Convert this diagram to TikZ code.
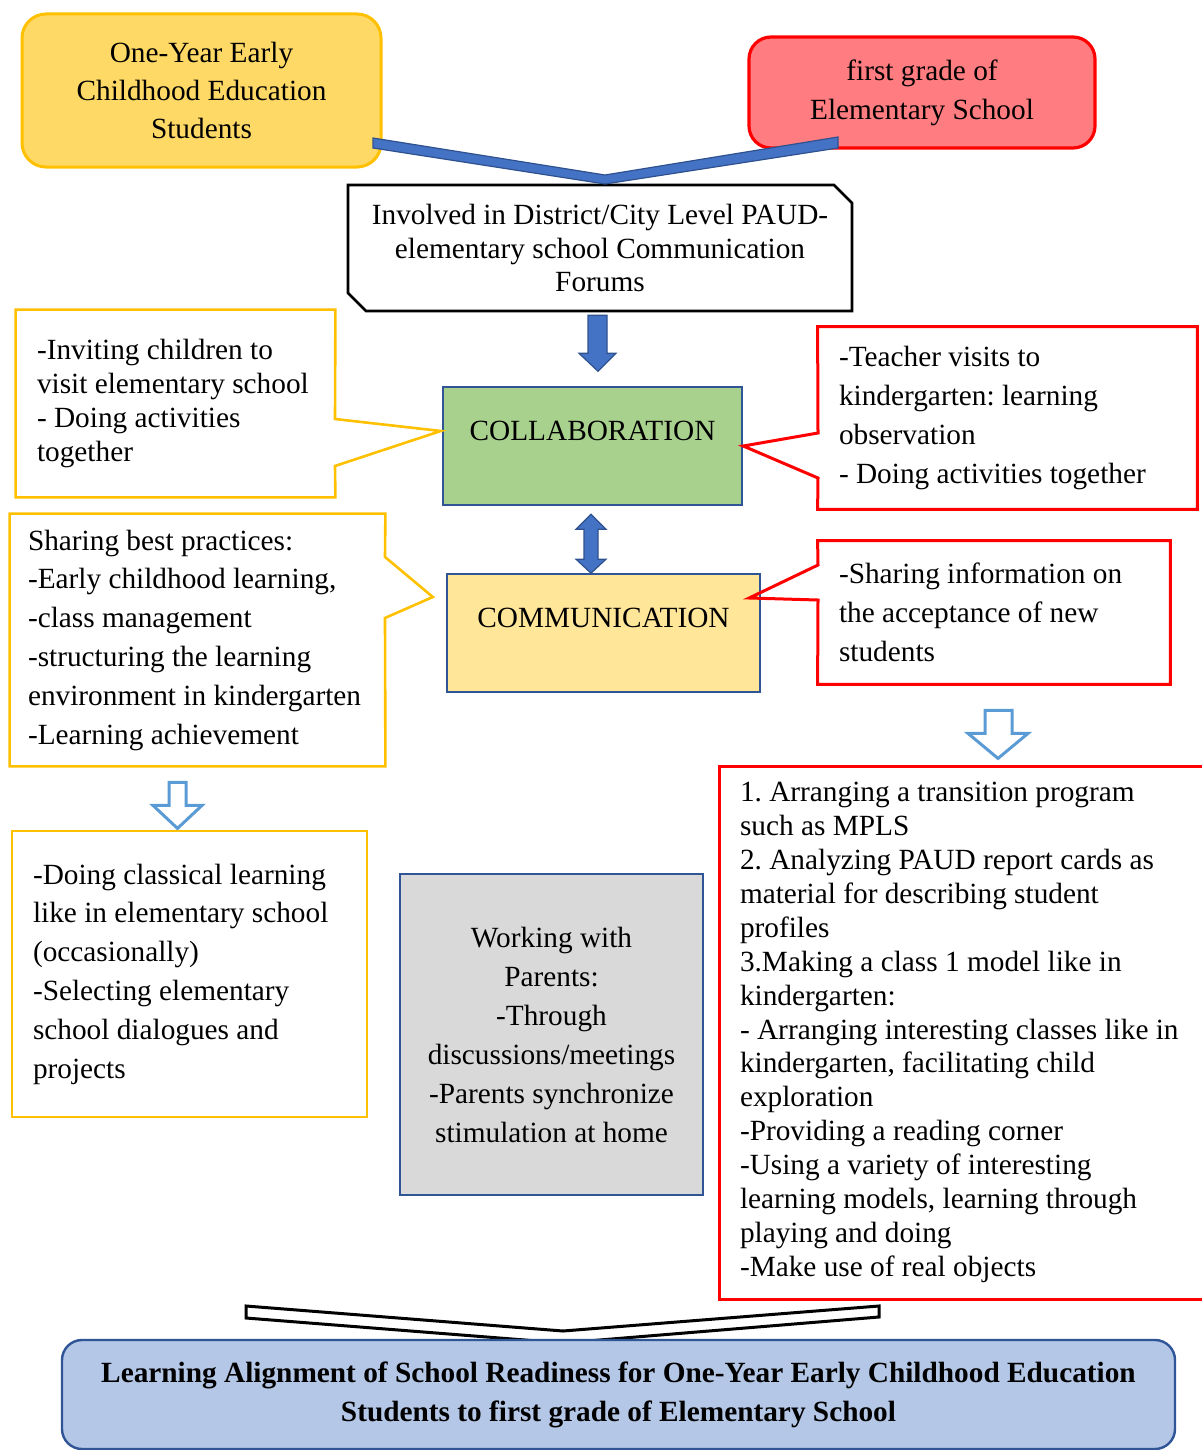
\documentclass[tikz,border=0pt]{standalone}
\usepackage{fontspec}
\setmainfont{Liberation Serif}
\usepackage{xcolor}
\usetikzlibrary{arrows.meta, positioning, shapes.geometric, shapes.misc, calc}
\frenchspacing

\definecolor{ygold}{HTML}{FFC000}
\definecolor{yfill}{HTML}{FFD966}
\definecolor{rline}{HTML}{FF0000}
\definecolor{rfill}{HTML}{FF7C80}
\definecolor{barblue}{HTML}{4472C4}
\definecolor{bardark}{HTML}{2F528F}
\definecolor{boxblue}{HTML}{2F5597}
\definecolor{collabfill}{HTML}{A9D18E}
\definecolor{commfill}{HTML}{FFE699}
\definecolor{hollowblue}{HTML}{5B9BD5}
\definecolor{parentfill}{HTML}{D9D9D9}
\definecolor{titlefill}{HTML}{B4C7E7}

\begin{document}
\begin{tikzpicture}[
    x=0.5pt, y=-0.5pt,
    box/.style={rectangle, inner sep=0pt, align=center, font=\fontsize{14.65pt}{19.5pt}\selectfont},
    tight/.style={font=\fontsize{14.65pt}{16.95pt}\selectfont},
    topY/.style={box, draw=ygold, fill=yfill, line width=1.5pt, rounded corners=12pt},
    topR/.style={box, draw=rline, fill=rfill, line width=1.6pt, rounded corners=11pt},
    forumbox/.style={box, tight, draw=black, line width=1.3pt, chamfered rectangle, chamfered rectangle corners={north east, south west}, chamfered rectangle xsep=4.5pt, chamfered rectangle ysep=4.5pt},
    mainbox/.style={box, draw=boxblue, line width=1.2pt},
    note/.style={box, align=flush left},
    callY/.style={draw=ygold, line width=1.3pt, line join=miter},
    callR/.style={draw=rline, line width=1.5pt, line join=miter},
    solidarrow/.style={fill=barblue, draw=bardark, line width=0.6pt},
    hollowarrow/.style={fill=white, draw=hollowblue, line width=1.5pt},
    outlinebar/.style={fill=white, draw=black, line width=1.5pt}
]
    \useasboundingbox (0,0) rectangle (1201,1450);

    \node[topY, minimum width=179.5pt, minimum height=76.5pt, font=\fontsize{14.65pt}{19pt}\selectfont] (paud) at (201.5,90.5) {One-Year Early\\Childhood Education\\Students};
    \node[topR, minimum width=173pt, minimum height=55.5pt] (grade1) at (922,92.5) {first grade of\\Elementary School};
    \node[forumbox, minimum width=252pt, minimum height=63pt] (forum) at (600,248) {Involved in District/City Level PAUD-\\elementary school Communication\\Forums};
    \node[mainbox, fill=collabfill, minimum width=149.5pt, minimum height=59pt] (collab) at (592.5,446) {COLLABORATION\\[-4.5pt]\mbox{}};
    \node[mainbox, fill=commfill, minimum width=156.5pt, minimum height=59pt] (comm) at (603.5,633) {COMMUNICATION\\[-4.5pt]\mbox{}};

    \node[note, tight, text width=138.5pt, minimum width=159.5pt, minimum height=93.5pt] (invite) at (175.5,403.5) {-Inviting children to\\visit elementary school\\- Doing activities\\together};
    \node[note, text width=168.5pt, minimum width=189.5pt, minimum height=91pt] (teach) at (1007.5,418) {-Teacher visits to\\kindergarten: learning\\observation\\- Doing activities together};
    \node[note, font=\fontsize{14.65pt}{19.4pt}\selectfont, text width=169.5pt, minimum width=187.5pt, minimum height=126pt] (share) at (197.5,640) {Sharing best practices:\\-Early childhood learning,\\-class management\\-structuring the learning\\environment in kindergarten\\-Learning achievement};
    \node[note, text width=155pt, minimum width=176pt, minimum height=71.5pt] (info) at (994,612.5) {-Sharing information on\\the acceptance of new\\students};
    \node[note, font=\fontsize{14.65pt}{19.4pt}\selectfont, text width=156.5pt, minimum width=177.5pt, minimum height=143pt, draw=ygold, line width=1.3pt] (classic) at (189.5,974) {-Doing classical learning\\like in elementary school\\(occasionally)\\-Selecting elementary\\school dialogues and\\projects};
    \node[mainbox, fill=parentfill, minimum width=151.5pt, minimum height=160.5pt] (parents) at (551.5,1034.5) {Working with\\Parents:\\-Through\\discussions/meetings\\-Parents synchronize\\stimulation at home};
    \node[note, tight, text width=235pt, minimum width=256pt, minimum height=266.5pt, draw=rline, line width=1.5pt] (program) at (975,1032.5) {1. Arranging a transition program\\such as MPLS\\2. Analyzing PAUD report cards as\\material for describing student\\profiles\\3.Making a class 1 model like in\\kindergarten:\\- Arranging interesting classes like in\\kindergarten, facilitating child\\exploration\\-Providing a reading corner\\-Using a variety of interesting\\learning models, learning through\\playing and doing\\-Make use of real objects};

    % callout outlines
    \draw[callY] (invite.north west) -- (invite.north east) -- (335,419) -- ($(collab.west)+(-1,-15)$) -- (335,466) -- (invite.south east) -- (invite.south west) -- cycle;
    \draw[callR] (teach.north west) -- (teach.north east) -- (teach.south east) -- (teach.south west) -- (818,478) -- (collab.east) -- (818,433) -- cycle;
    \draw[callY] (share.north west) -- (share.north east) -- (385,557) -- ($(comm.west)+(-13,-36)$) -- (385,618) -- (share.south east) -- (share.south west) -- cycle;
    \draw[callR] (info.north west) -- (info.north east) -- (info.south east) -- (info.south west) -- (818,600) -- ($(comm.east)+(-12,-35)$) -- (818,565) -- cycle;

    % arrows
    \draw[solidarrow] (373,138) -- (605,175) -- (838,137) -- (838,148) -- (605,184) -- (373,148) -- cycle;
    \draw[solidarrow] ($(forum.south)+(-12,3)$) -- ++(19,0) -- ++(0,38) -- ++(9,0) -- ++(-18,18) -- ++(-19,-18) -- ++(9,0) -- cycle;
    \draw[solidarrow] ($(collab.south)+(-1.5,8)$) -- ++(15,15) -- ++(-8,0) -- ++(0,30) -- ++(8,0) -- ++(-15,14) -- ++(-15,-14) -- ++(8,0) -- ++(0,-30) -- ++(-8,0) -- cycle;
    \draw[hollowarrow] ($(share.south)+(-28.5,16)$) -- ++(17,0) -- ++(0,23) -- ++(16,0) -- ++(-24.5,23) -- ++(-24.5,-23) -- ++(16,0) -- cycle;
    \draw[hollowarrow] ($(info.south)+(-9,26)$) -- ++(27,0) -- ++(0,23) -- ++(16,0) -- ++(-30,25) -- ++(-30,-25) -- ++(17,0) -- cycle;
    \draw[outlinebar] (246,1306) -- (563,1331) -- (879,1306) -- (879,1317) -- (563,1343) -- (246,1318) -- cycle;

    \node[box, draw=boxblue, fill=titlefill, rounded corners=10pt, line width=1.2pt, minimum width=556.5pt, minimum height=54.5pt, font=\bfseries\fontsize{14.65pt}{19.5pt}\selectfont] (title) at (618.5,1394.5) {Learning Alignment of School Readiness for One-Year Early Childhood Education\\Students to first grade of Elementary School};
\end{tikzpicture}
\end{document}
